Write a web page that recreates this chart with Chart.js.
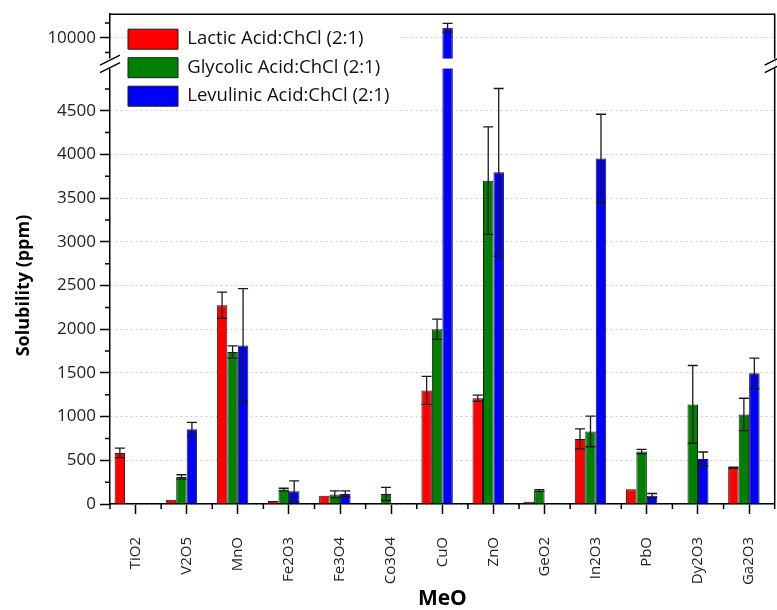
<!DOCTYPE html>
<html>
<head>
<meta charset="utf-8">
<script src="https://cdn.jsdelivr.net/npm/chart.js@4.4.1/dist/chart.umd.min.js"></script>
<style>
  html, body { margin: 0; padding: 0; background: #fff; overflow: hidden; }
  #wrap { position: relative; width: 790px; height: 610px; }
</style>
</head>
<body>
<div id="wrap"><canvas id="chart"></canvas></div>
<script>
const categories = ['TiO2', 'V2O5', 'MnO', 'Fe2O3', 'Fe3O4', 'Co3O4', 'CuO', 'ZnO', 'GeO2', 'In2O3', 'PbO', 'Dy2O3', 'Ga2O3'];

const lactic       = [585, 50, 2275, 35, 95, 10, 1300, 1210, 25, 745, 170, 12, 415];
const lacticErr    = [55, 0, 150, 0, 0, 0, 160, 35, 0, 115, 0, 0, 8];
const glycolic     = [8, 310, 1740, 165, 110, 115, 2000, 3700, 155, 830, 600, 1140, 1025];
const glycolicErr  = [0, 25, 70, 15, 40, 75, 115, 615, 10, 175, 25, 445, 185];
const levulinic    = [5, 855, 1815, 145, 115, 5, 10170, 3795, 0, 3955, 95, 515, 1495];
const levulinicErr = [0, 80, 650, 120, 35, 0, 75, 960, 0, 505, 25, 80, 175];

// broken y axis: lower part 0..5000, upper part 9500..10400
const lowerTicks = [0, 500, 1000, 1500, 2000, 2500, 3000, 3500, 4000, 4500];
const upperTicks = [10000];
const minorStep = 250;

const FONT = "'Open Sans', sans-serif";

function drawErrors(chart, meta, ds) {
  if (!ds.errors) return;
  const ctx = chart.ctx;
  const yScale = chart.scales[meta.yAxisID];
  ctx.save();
  ctx.strokeStyle = '#1a1a1a';
  ctx.lineWidth = 1.3;
  meta.data.forEach((bar, i) => {
    const v = ds.data[i], e = ds.errors[i];
    if (v == null || !e) return;
    const yHi = yScale.getPixelForValue(v + e);
    const yLo = yScale.getPixelForValue(v - e);
    ctx.beginPath();
    ctx.moveTo(bar.x, yHi); ctx.lineTo(bar.x, yLo);
    ctx.moveTo(bar.x - 5, yHi); ctx.lineTo(bar.x + 5, yHi);
    ctx.moveTo(bar.x - 5, yLo); ctx.lineTo(bar.x + 5, yLo);
    ctx.stroke();
  });
  ctx.restore();
}

// each dataset only shows inside the part of the axis it belongs to
const axisClip = {
  id: 'axisClip',
  beforeDatasetDraw(chart, args) {
    const s = chart.scales[args.meta.yAxisID];
    const a = chart.chartArea;
    chart.ctx.save();
    chart.ctx.beginPath();
    chart.ctx.rect(a.left, s.top, a.right - a.left, s.bottom - s.top);
    chart.ctx.clip();
  },
  afterDatasetDraw(chart, args) {
    drawErrors(chart, args.meta, chart.data.datasets[args.index]);
    chart.ctx.restore();
  }
};

const legendPlace = {
  id: 'legendPlace',
  afterLayout(chart) {
    const lg = chart.legend, a = chart.chartArea;
    lg.left = a.left + 9.5;
    lg.top = a.top + 6.5;
    lg.right = a.right;
    lg.bottom = a.bottom;
  }
};

const axisBreak = {
  id: 'axisBreak',
  afterDraw(chart) {
    const ctx = chart.ctx, a = chart.chartArea;
    const up = chart.scales.yTop, low = chart.scales.y, xs = chart.scales.x;
    const yb0 = up.bottom - 8.5, yb1 = low.top + 1.5;
    ctx.save();
    ctx.strokeStyle = '#000';
    ctx.lineWidth = 1.5;
    // frame
    ctx.beginPath();
    ctx.moveTo(a.left, a.top); ctx.lineTo(a.right, a.top); ctx.lineTo(a.right, a.bottom);
    ctx.stroke();
    // gap of the break
    ctx.fillStyle = '#fff';
    ctx.fillRect(a.left - 1, yb0, a.right - a.left + 2, yb1 - yb0);
    ctx.beginPath();
    [a.left, a.right].forEach(x => {
      [yb0 + 1.5, yb1 - 1].forEach(y => {
        ctx.moveTo(x - 10, y + 5); ctx.lineTo(x + 10, y - 5);
      });
    });
    // minor ticks
    lowerTicks.forEach(v => {
      const m = v + minorStep;
      if (m < low.max) {
        const py = low.getPixelForValue(m);
        ctx.moveTo(a.left - 5, py); ctx.lineTo(a.left, py);
      }
    });
    upperTicks.forEach(v => {
      [v - minorStep, v + minorStep].forEach(m => {
        const py = up.getPixelForValue(m);
        ctx.moveTo(a.left - 5, py); ctx.lineTo(a.left, py);
      });
    });
    for (let i = 0; i <= categories.length; i++) {
      const px = xs.getPixelForValue(i - 0.5);
      ctx.moveTo(px, a.bottom); ctx.lineTo(px, a.bottom + 5);
    }
    ctx.stroke();
    // legend sits on a white patch
    const lg = chart.legend, hb = lg.legendHitBoxes;
    if (hb && hb.length) {
      const x0 = hb[0].left - 1;
      const x1 = Math.max(...hb.map(h => h.left + h.width)) + 8;
      const last = hb[hb.length - 1];
      ctx.fillStyle = '#fff';
      ctx.fillRect(x0, a.top + 1.5, x1 - x0, last.top + last.height + 4 - a.top - 1.5);
      lg.draw();
    }
    ctx.restore();
  }
};

const barStyle = { borderWidth: 1, borderColor: '#1a1a1a' };
const plainNumber = v => String(v);

new Chart(document.getElementById('chart'), {
  type: 'bar',
  data: {
    labels: categories,
    datasets: [
      { label: 'Lactic Acid:ChCl (2:1)', data: lactic, errors: lacticErr, backgroundColor: '#ff0000', stack: 'lac', yAxisID: 'y', ...barStyle },
      { label: 'Glycolic Acid:ChCl (2:1)', data: glycolic, errors: glycolicErr, backgroundColor: '#008000', stack: 'gly', yAxisID: 'y', ...barStyle },
      { label: 'Levulinic Acid:ChCl (2:1)', data: levulinic, errors: levulinicErr, backgroundColor: '#0000ff', stack: 'lev', yAxisID: 'y', ...barStyle },
      // same series, part above the break
      { label: 'Levulinic upper', data: levulinic.map(v => v > 5000 ? v : null), errors: levulinicErr, backgroundColor: '#0000ff', stack: 'lev', yAxisID: 'yTop', ...barStyle },
      // empty slot, keeps the groups a little left of the tick like the original
      { label: 'spacer', data: [], stack: 'gap', yAxisID: 'y' }
    ]
  },
  options: {
    responsive: true,
    maintainAspectRatio: false,
    animation: false,
    categoryPercentage: 0.82,
    barPercentage: 1,
    layout: { padding: { top: 13, right: 12, left: 13, bottom: 0 } },
    plugins: {
      legend: {
        position: 'chartArea',
        align: 'start',
        labels: {
          boxWidth: 50,
          boxHeight: 20,
          padding: 8.5,
          color: '#111',
          font: { family: FONT, size: 18.5 },
          filter: item => item.datasetIndex < 3
        }
      },
      tooltip: { enabled: false }
    },
    scales: {
      x: {
        type: 'category',
        offset: true,
        afterFit: s => { s.height = 106; },
        grid: { drawOnChartArea: false, offset: false, tickLength: 10, tickColor: '#000', tickWidth: 1.5 },
        border: { color: '#000', width: 1.5 },
        ticks: { autoSkip: false, minRotation: 90, maxRotation: 90, padding: 23, color: '#222', font: { family: FONT, size: 15 } },
        title: { display: true, text: 'MeO', color: '#000', font: { family: FONT, size: 21, weight: 'bold', lineHeight: 1 }, padding: { top: 3, bottom: 0 } }
      },
      yTop: {
        type: 'linear',
        position: 'left',
        stack: 'sol',
        stackWeight: 53,
        weight: 1,
        stacked: false,
        min: 9500,
        max: 10400,
        afterBuildTicks: s => { s.ticks = upperTicks.map(v => ({ value: v })); },
        grid: { color: '#cccccc', lineWidth: 1, tickLength: 10, tickColor: '#000', tickWidth: 1.5 },
        border: { color: '#000', width: 1.5, dash: [2, 3] },
        ticks: { padding: 4, color: '#222', font: { family: FONT, size: 17 }, callback: plainNumber }
      },
      y: {
        type: 'linear',
        position: 'left',
        stack: 'sol',
        stackWeight: 438,
        weight: 0,
        stacked: false,
        min: 0,
        max: 5000,
        afterFit: s => { s.width = 97; },
        afterBuildTicks: s => { s.ticks = lowerTicks.map(v => ({ value: v })); },
        grid: { color: '#cccccc', lineWidth: 1, tickLength: 10, tickColor: '#000', tickWidth: 1.5 },
        border: { color: '#000', width: 1.5, dash: [2, 3] },
        ticks: { padding: 4, color: '#222', font: { family: FONT, size: 17 }, callback: plainNumber },
        title: { display: true, text: 'Solubility (ppm)', color: '#000', font: { family: FONT, size: 18, weight: 'bold' }, padding: { top: 0, bottom: 18 } }
      }
    }
  },
  plugins: [axisClip, legendPlace, axisBreak]
});
</script>
</body>
</html>
